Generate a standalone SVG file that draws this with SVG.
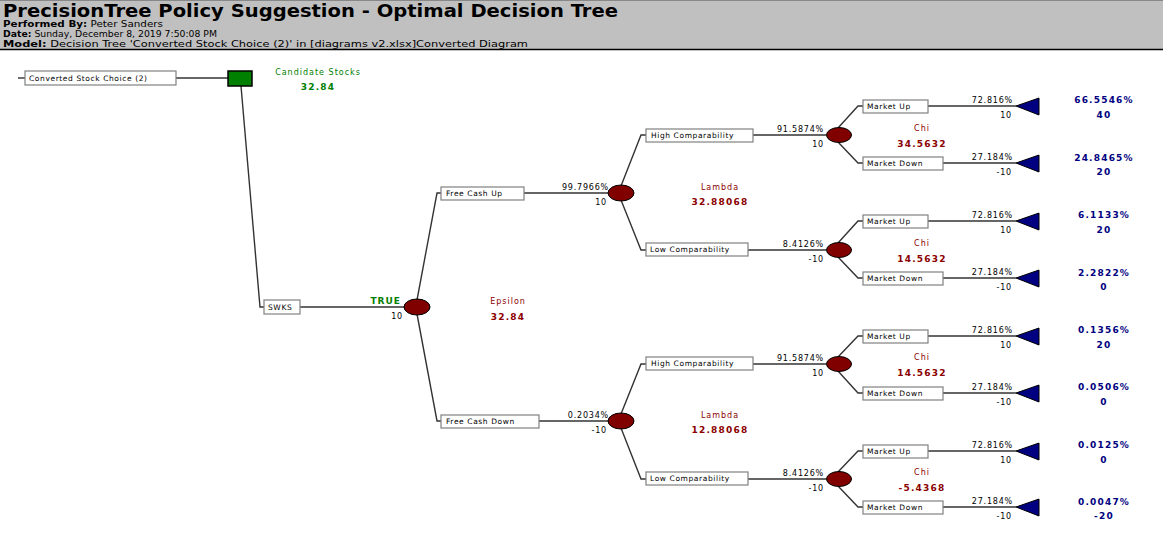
<svg xmlns="http://www.w3.org/2000/svg" width="1163" height="546" viewBox="0 0 1163 546">
<style>
  text { font-family: "DejaVu Sans", "Liberation Sans", sans-serif; }
  .hdr { font-size: 8px; fill: #000; }
  .hb { font-weight: bold; }
  .lbl { font-size: 7.5px; fill: #000; letter-spacing: 0.6px; }
  .prob { font-size: 8px; fill: #000; text-anchor: end; letter-spacing: 0.8px; }
  .red { font-size: 8px; fill: #8b0000; text-anchor: middle; letter-spacing: 1px; }
  .redb { font-size: 9px; font-weight: bold; fill: #8b0000; text-anchor: middle; letter-spacing: 1.2px; }
  .grn { font-size: 8px; fill: #008000; text-anchor: middle; letter-spacing: 1px; }
  .grnb { font-size: 9px; font-weight: bold; fill: #008000; text-anchor: middle; letter-spacing: 1.2px; }
  .blu { font-size: 9px; font-weight: bold; fill: #000080; text-anchor: middle; letter-spacing: 1.2px; }
  .box { fill: #fff; stroke: #808080; stroke-width: 1.2; }
  .ln { fill: none; stroke: #333; stroke-width: 1.4; }
  .chance { fill: #800000; stroke: #000; stroke-width: 1; }
  .term { fill: #000080; stroke: #000; stroke-width: 1; }
</style>

<g id="header">
  <rect x="0" y="0" width="1163" height="50" fill="#c0c0c0"/>
  <line x1="0" y1="0.5" x2="1163" y2="0.5" stroke="#888" stroke-width="1"/>
  <line x1="0" y1="49.5" x2="1163" y2="49.5" stroke="#000" stroke-width="1.5"/>
  <text x="3" y="17" font-size="18" font-weight="bold" textLength="615" lengthAdjust="spacingAndGlyphs">PrecisionTree Policy Suggestion - Optimal Decision Tree</text>
  <text class="hdr" x="3" y="27" textLength="160" lengthAdjust="spacingAndGlyphs"><tspan class="hb">Performed By:</tspan> Peter Sanders</text>
  <text class="hdr" x="3" y="37" textLength="214" lengthAdjust="spacingAndGlyphs"><tspan class="hb">Date:</tspan> Sunday, December 8, 2019 7:50:08 PM</text>
  <text class="hdr" x="3" y="47" textLength="525" lengthAdjust="spacingAndGlyphs"><tspan class="hb">Model:</tspan> Decision Tree 'Converted Stock Choice (2)' in [diagrams v2.xlsx]Converted Diagram</text>
</g>

<g id="connectors">
  <line class="ln" x1="18" y1="78" x2="25" y2="78"/>
  <line class="ln" x1="176" y1="78" x2="228" y2="78"/>
  <polyline class="ln" points="241,86 260,307 264,307"/>
  <line class="ln" x1="300" y1="307" x2="405" y2="307"/>
  <polyline class="ln" points="417,300 437,193 441,193"/>
  <polyline class="ln" points="417,314 437,421 441,421"/>
  <line class="ln" x1="524" y1="193" x2="609" y2="193"/>
  <line class="ln" x1="539" y1="421" x2="609" y2="421"/>
  <polyline class="ln" points="621,186 641,135 646,135"/>
  <polyline class="ln" points="621,200 641,250 646,250"/>
  <polyline class="ln" points="621,414 641,364 646,364"/>
  <polyline class="ln" points="621,428 641,479 646,479"/>
  <line class="ln" x1="753" y1="135" x2="826" y2="135"/>
  <line class="ln" x1="748" y1="250" x2="826" y2="250"/>
  <line class="ln" x1="753" y1="364" x2="826" y2="364"/>
  <line class="ln" x1="748" y1="479" x2="826" y2="479"/>
  <polyline class="ln" points="838,128 858,106 863,106"/>
  <polyline class="ln" points="838,142 858,163 863,163"/>
  <polyline class="ln" points="838,243 858,221 863,221"/>
  <polyline class="ln" points="838,257 858,278 863,278"/>
  <polyline class="ln" points="838,357 858,336 863,336"/>
  <polyline class="ln" points="838,371 858,393 863,393"/>
  <polyline class="ln" points="838,472 858,451 863,451"/>
  <polyline class="ln" points="838,486 858,507 863,507"/>
  <line class="ln" x1="928" y1="106" x2="1016" y2="106"/>
  <line class="ln" x1="943" y1="163" x2="1016" y2="163"/>
  <line class="ln" x1="928" y1="221" x2="1016" y2="221"/>
  <line class="ln" x1="943" y1="278" x2="1016" y2="278"/>
  <line class="ln" x1="928" y1="336" x2="1016" y2="336"/>
  <line class="ln" x1="943" y1="393" x2="1016" y2="393"/>
  <line class="ln" x1="928" y1="451" x2="1016" y2="451"/>
  <line class="ln" x1="943" y1="507" x2="1016" y2="507"/>
</g>

<g id="root">
  <rect class="box" x="25" y="71" width="151" height="14"/>
  <text class="lbl" x="29" y="81">Converted Stock Choice (2)</text>
</g>

<g id="decision-candidate-stocks">
  <rect x="228" y="71" width="24" height="15" fill="#008000" stroke="#000" stroke-width="1.5"/>
  <text class="grn" x="318" y="75">Candidate Stocks</text>
  <text class="grnb" x="318" y="90">32.84</text>
</g>

<g id="branch-swks">
  <rect class="box" x="264" y="300" width="36" height="14"/>
  <text class="lbl" x="268" y="310">SWKS</text>
  <text x="401" y="304" font-size="9" font-weight="bold" fill="#008000" text-anchor="end" letter-spacing="1">TRUE</text>
  <text class="prob" x="403" y="319">10</text>
</g>

<g id="chance-epsilon">
  <ellipse class="chance" cx="417" cy="307" rx="13" ry="8"/>
  <text class="red" x="508" y="304">Epsilon</text>
  <text class="redb" x="508" y="320">32.84</text>
</g>

<g id="branch-free-cash-up">
  <rect class="box" x="441" y="187" width="83" height="13"/>
  <text class="lbl" x="446" y="196">Free Cash Up</text>
  <text class="prob" x="609" y="190">99.7966%</text>
  <text class="prob" x="607" y="205">10</text>
</g>

<g id="chance-lambda-1">
  <ellipse class="chance" cx="621" cy="193" rx="13" ry="8"/>
  <text class="red" x="720" y="190">Lambda</text>
  <text class="redb" x="720" y="205">32.88068</text>
</g>

<g id="branch-free-cash-down">
  <rect class="box" x="441" y="415" width="98" height="13"/>
  <text class="lbl" x="446" y="424">Free Cash Down</text>
  <text class="prob" x="609" y="418">0.2034%</text>
  <text class="prob" x="607" y="433">-10</text>
</g>

<g id="chance-lambda-2">
  <ellipse class="chance" cx="621" cy="421" rx="13" ry="8"/>
  <text class="red" x="720" y="418">Lambda</text>
  <text class="redb" x="720" y="433">12.88068</text>
</g>

<g id="branch-high-1">
  <rect class="box" x="646" y="129" width="107" height="13"/>
  <text class="lbl" x="651" y="138">High Comparability</text>
  <text class="prob" x="824" y="132">91.5874%</text>
  <text class="prob" x="824" y="147">10</text>
</g>
<g id="chance-chi-1">
  <ellipse class="chance" cx="839" cy="135" rx="12.5" ry="7.5"/>
  <text class="red" x="922" y="131">Chi</text>
  <text class="redb" x="922" y="147">34.5632</text>
</g>

<g id="branch-low-1">
  <rect class="box" x="646" y="243" width="102" height="13"/>
  <text class="lbl" x="650" y="252">Low Comparability</text>
  <text class="prob" x="824" y="247">8.4126%</text>
  <text class="prob" x="824" y="262">-10</text>
</g>
<g id="chance-chi-2">
  <ellipse class="chance" cx="839" cy="250" rx="12.5" ry="7.5"/>
  <text class="red" x="922" y="246">Chi</text>
  <text class="redb" x="922" y="262">14.5632</text>
</g>

<g id="branch-high-2">
  <rect class="box" x="646" y="357" width="107" height="13"/>
  <text class="lbl" x="651" y="366">High Comparability</text>
  <text class="prob" x="824" y="361">91.5874%</text>
  <text class="prob" x="824" y="376">10</text>
</g>
<g id="chance-chi-3">
  <ellipse class="chance" cx="839" cy="364" rx="12.5" ry="7.5"/>
  <text class="red" x="922" y="360">Chi</text>
  <text class="redb" x="922" y="376">14.5632</text>
</g>

<g id="branch-low-2">
  <rect class="box" x="646" y="472" width="102" height="13"/>
  <text class="lbl" x="650" y="481">Low Comparability</text>
  <text class="prob" x="824" y="476">8.4126%</text>
  <text class="prob" x="824" y="491">-10</text>
</g>
<g id="chance-chi-4">
  <ellipse class="chance" cx="839" cy="479" rx="12.5" ry="7.5"/>
  <text class="red" x="922" y="475">Chi</text>
  <text class="redb" x="922" y="491">-5.4368</text>
</g>

<g id="market-1-up">
  <rect class="box" x="863" y="100" width="65" height="13"/>
  <text class="lbl" x="867" y="109">Market Up</text>
  <text class="prob" x="1013" y="103">72.816%</text>
  <text class="prob" x="1012" y="118">10</text>
  <polygon class="term" points="1016,106 1039,98 1039,115"/>
  <text class="blu" x="1104" y="103">66.5546%</text>
  <text class="blu" x="1104" y="118">40</text>
</g>
<g id="market-1-down">
  <rect class="box" x="863" y="157" width="80" height="13"/>
  <text class="lbl" x="867" y="166">Market Down</text>
  <text class="prob" x="1013" y="160">27.184%</text>
  <text class="prob" x="1012" y="175">-10</text>
  <polygon class="term" points="1016,163 1039,155 1039,172"/>
  <text class="blu" x="1104" y="161">24.8465%</text>
  <text class="blu" x="1104" y="175">20</text>
</g>
<g id="market-2-up">
  <rect class="box" x="863" y="215" width="65" height="13"/>
  <text class="lbl" x="867" y="224">Market Up</text>
  <text class="prob" x="1013" y="218">72.816%</text>
  <text class="prob" x="1012" y="233">10</text>
  <polygon class="term" points="1016,221 1039,213 1039,230"/>
  <text class="blu" x="1104" y="218">6.1133%</text>
  <text class="blu" x="1104" y="233">20</text>
</g>
<g id="market-2-down">
  <rect class="box" x="863" y="272" width="80" height="13"/>
  <text class="lbl" x="867" y="281">Market Down</text>
  <text class="prob" x="1013" y="275">27.184%</text>
  <text class="prob" x="1012" y="290">-10</text>
  <polygon class="term" points="1016,278 1039,270 1039,287"/>
  <text class="blu" x="1104" y="276">2.2822%</text>
  <text class="blu" x="1104" y="290">0</text>
</g>
<g id="market-3-up">
  <rect class="box" x="863" y="330" width="65" height="13"/>
  <text class="lbl" x="867" y="339">Market Up</text>
  <text class="prob" x="1013" y="333">72.816%</text>
  <text class="prob" x="1012" y="348">10</text>
  <polygon class="term" points="1016,336 1039,328 1039,345"/>
  <text class="blu" x="1104" y="333">0.1356%</text>
  <text class="blu" x="1104" y="348">20</text>
</g>
<g id="market-3-down">
  <rect class="box" x="863" y="387" width="80" height="13"/>
  <text class="lbl" x="867" y="396">Market Down</text>
  <text class="prob" x="1013" y="390">27.184%</text>
  <text class="prob" x="1012" y="405">-10</text>
  <polygon class="term" points="1016,393 1039,385 1039,402"/>
  <text class="blu" x="1104" y="390">0.0506%</text>
  <text class="blu" x="1104" y="405">0</text>
</g>
<g id="market-4-up">
  <rect class="box" x="863" y="445" width="65" height="13"/>
  <text class="lbl" x="867" y="454">Market Up</text>
  <text class="prob" x="1013" y="448">72.816%</text>
  <text class="prob" x="1012" y="463">10</text>
  <polygon class="term" points="1016,451 1039,443 1039,460"/>
  <text class="blu" x="1104" y="448">0.0125%</text>
  <text class="blu" x="1104" y="463">0</text>
</g>
<g id="market-4-down">
  <rect class="box" x="863" y="501" width="80" height="13"/>
  <text class="lbl" x="867" y="510">Market Down</text>
  <text class="prob" x="1013" y="504">27.184%</text>
  <text class="prob" x="1012" y="519">-10</text>
  <polygon class="term" points="1016,507 1039,499 1039,516"/>
  <text class="blu" x="1104" y="505">0.0047%</text>
  <text class="blu" x="1104" y="519">-20</text>
</g>
</svg>
